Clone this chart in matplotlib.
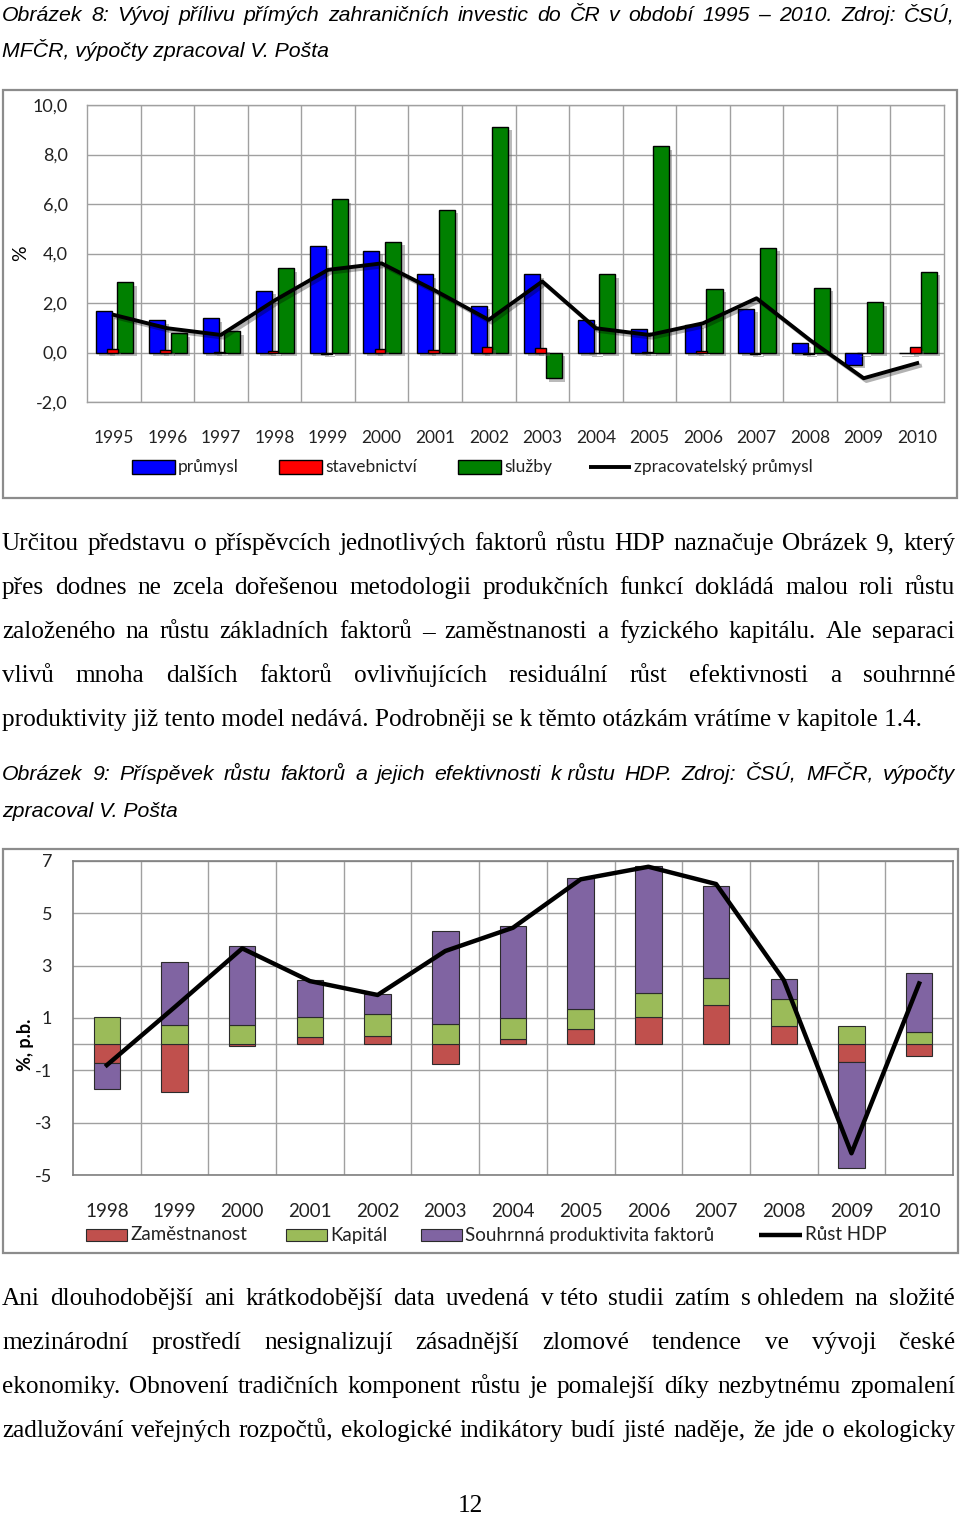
import numpy as np
import matplotlib
matplotlib.use("Agg")
import matplotlib.pyplot as plt
import matplotlib.patheffects as pe
from matplotlib.patches import Rectangle
from matplotlib.font_manager import FontProperties

W, H = 960, 1514

# --- chart 1: FDI inflow by sector, % ---
years1 = [str(y) for y in range(1995, 2011)]
prumysl = [1.68, 1.31, 1.39, 2.50, 4.32, 4.10, 3.16, 1.88, 3.16, 1.31, 0.96, 1.12, 1.76, 0.38, -0.50, -0.03]
stavebnictvi = [0.13, 0.12, 0.02, 0.05, -0.05, 0.15, 0.10, 0.24, 0.17, -0.03, 0.03, 0.05, -0.05, -0.05, -0.03, 0.22]
sluzby = [2.83, 0.78, 0.85, 3.40, 6.19, 4.48, 5.76, 9.12, -1.04, 3.16, 8.34, 2.57, 4.24, 2.62, 2.03, 3.27]
zpracovatelsky = [1.52, 0.98, 0.71, 2.10, 3.34, 3.60, 2.50, 1.32, 2.87, 0.98, 0.71, 1.18, 2.19, 0.50, -1.04, -0.43]

# --- chart 2: contributions to GDP growth, p.p. ---
years2 = [str(y) for y in range(1998, 2011)]
zamestnanost = [-0.73, -1.84, -0.08, 0.27, 0.30, -0.77, 0.18, 0.57, 1.04, 1.48, 0.68, -0.68, -0.44]
kapital = [1.05, 0.72, 0.73, 0.78, 0.85, 0.76, 0.82, 0.79, 0.90, 1.06, 1.03, 0.69, 0.46]
produktivita = [-1.00, 2.41, 3.03, 1.41, 0.75, 3.56, 3.50, 4.98, 4.88, 3.49, 0.79, -4.07, 2.27]
rust_hdp = [-0.80, 1.41, 3.66, 2.41, 1.88, 3.56, 4.45, 6.30, 6.78, 6.12, 2.45, -4.17, 2.32]

cap1 = ["Obrázek 8: Vývoj přílivu přímých zahraničních investic do ČR v období 1995 – 2010. Zdroj: ČSÚ,",
        "MFČR, výpočty zpracoval V. Pošta"]
par1 = ["Určitou představu o příspěvcích jednotlivých faktorů růstu HDP naznačuje Obrázek 9, který",
        "přes dodnes ne zcela dořešenou metodologii produkčních funkcí dokládá malou roli růstu",
        "založeného na růstu základních faktorů – zaměstnanosti a fyzického kapitálu. Ale separaci",
        "vlivů mnoha dalších faktorů ovlivňujících residuální růst efektivnosti a souhrnné",
        "produktivity již tento model nedává. Podrobněji se k těmto otázkám vrátíme v kapitole 1.4."]
cap2 = ["Obrázek 9: Příspěvek růstu faktorů a jejich efektivnosti k\u00a0růstu HDP. Zdroj: ČSÚ, MFČR, výpočty",
        "zpracoval V. Pošta"]
par2 = ["Ani dlouhodobější ani krátkodobější data uvedená v\u00a0této studii zatím s\u00a0ohledem na složité",
        "mezinárodní prostředí nesignalizují zásadnější zlomové tendence ve vývoji české",
        "ekonomiky. Obnovení tradičních komponent růstu je pomalejší díky nezbytnému zpomalení",
        "zadlužování veřejných rozpočtů, ekologické indikátory budí jisté naděje, že jde o ekologicky"]

CHART_FONT = ["Lato", "DejaVu Sans"]
GRID = "#a0a0a0"
FRAME = "#8c8c8c"

fig = plt.figure(figsize=(W / 100, H / 100), dpi=100, facecolor="white")
page = fig.add_axes([0, 0, 1, 1])
page.set_xlim(0, W)
page.set_ylim(H, 0)
page.axis("off")
renderer = fig.canvas.get_renderer()


def px_axes(l, t, r, b):
    return fig.add_axes([l / W, 1 - b / H, (r - l) / W, (b - t) / H])


def text_w(s, fp):
    w, h, d = renderer.get_text_width_height_descent(s, fp, ismath=False)
    return w


def calibrated(family, style, sample, width):
    fp = FontProperties(family=family, style=style, size=10)
    return FontProperties(family=family, style=style, size=10 * width / text_w(sample, fp))


def justify(line, y, fp, x0=2, x1=955):
    words = line.split(" ")
    ws = [text_w(w, fp) for w in words]
    gap = (x1 - x0 - sum(ws)) / (len(words) - 1)
    x = x0
    for w, wd in zip(words, ws):
        page.text(x, y, w, fontproperties=fp, ha="left", va="baseline", color="black")
        x += wd + gap


def plain(line, y, fp, x0=2):
    page.text(x0, y, line, fontproperties=fp, ha="left", va="baseline", color="black")


cap_fp = calibrated("Liberation Sans", "italic", cap1[1], 329)
body_fp = calibrated("Liberation Serif", "normal", par1[4], 923)

justify(cap1[0], 21, cap_fp)
plain(cap1[1], 57, cap_fp)
for i, ln in enumerate(par1[:4]):
    justify(ln, 550 + 44 * i, body_fp)
plain(par1[4], 726, body_fp)
justify(cap2[0], 780, cap_fp)
plain(cap2[1], 817, cap_fp)
for i, ln in enumerate(par2):
    justify(ln, 1305 + 44 * i, body_fp)
page.text(470, 1512, "12", fontproperties=body_fp, ha="center", va="baseline")

# chart frames
page.add_patch(Rectangle((3, 90), 954, 408, fill=False, ec=FRAME, lw=1.6))
page.add_patch(Rectangle((3, 849), 955, 404, fill=False, ec=FRAME, lw=1.6))

# ---------------- chart 1 ----------------
ax1 = px_axes(87, 105, 944, 402)
x1 = np.arange(len(years1))
bar_shadow = [pe.SimplePatchShadow(offset=(2.5, -2.5), shadow_rgbFace="0.4", alpha=0.45), pe.Normal()]
for vals, off, wd, col, z in [(prumysl, -0.19, 0.30, "#0000ff", 3),
                              (sluzby, 0.215, 0.30, "#008000", 3),
                              (stavebnictvi, -0.03, 0.20, "#ff0000", 4)]:
    bars = ax1.bar(x1 + off, vals, width=wd, color=col, edgecolor="black", linewidth=1.0, zorder=z)
    for b in bars:
        b.set_path_effects(bar_shadow)
ax1.plot(x1, zpracovatelsky, color="black", lw=2.8, zorder=6, solid_joinstyle="round",
         path_effects=[pe.SimpleLineShadow(offset=(2, -2), alpha=0.3), pe.Normal()])
ax1.set_xlim(-0.5, len(years1) - 0.5)
ax1.set_ylim(-2, 10)
yt1 = np.arange(-2, 11, 2)
ax1.set_yticks(yt1)
ax1.set_yticklabels([f"{v:.1f}".replace(".", ",") for v in yt1], family=CHART_FONT, fontsize=13, color="#222222")
ax1.set_xticks(x1)
ax1.set_xticklabels(years1, family=CHART_FONT, fontsize=12.5, color="#222222")
ax1.tick_params(length=0, axis="y", pad=14)
ax1.tick_params(length=0, axis="x", pad=20)
for v in yt1:
    ax1.axhline(v, color=GRID, lw=1.0, zorder=1)
for b in np.arange(0.5, len(years1) - 0.5, 1):
    ax1.axvline(b, color=GRID, lw=1.0, zorder=1)
for s in ax1.spines.values():
    s.set_color(GRID)
    s.set_linewidth(1.0)
page.text(21, 253, "%", family=CHART_FONT, fontsize=14, rotation=90, ha="center", va="center")

leg1 = [("průmysl", "#0000ff", 132), ("stavebnictví", "#ff0000", 279), ("služby", "#008000", 458)]
for lab, col, x in leg1:
    page.add_patch(Rectangle((x, 460), 43, 14, fc=col, ec="black", lw=1.0))
    page.text(x + 46, 467, lab, family=CHART_FONT, fontsize=12.5, ha="left", va="center", color="#222222")
page.plot([589, 631], [467, 467], color="black", lw=2.8, solid_capstyle="butt")
page.text(634, 467, "zpracovatelský průmysl", family=CHART_FONT, fontsize=12.5, ha="left", va="center", color="#222222")

# ---------------- chart 2 ----------------
ax2 = px_axes(73, 861, 953, 1175)
x2 = np.arange(len(years2))
pos = np.zeros(len(years2))
neg = np.zeros(len(years2))
for vals, col in [(zamestnanost, "#c0504d"), (kapital, "#9bbb59"), (produktivita, "#8064a2")]:
    v = np.array(vals)
    bottom = np.where(v >= 0, pos, neg)
    ax2.bar(x2, v, bottom=bottom, width=0.39, color=col, edgecolor="#2b2b2b", linewidth=0.8, zorder=3)
    pos = np.where(v >= 0, pos + v, pos)
    neg = np.where(v < 0, neg + v, neg)
ax2.plot(x2, rust_hdp, color="black", lw=3.2, zorder=5, solid_joinstyle="round")
ax2.set_xlim(-0.5, len(years2) - 0.5)
ax2.set_ylim(-5, 7)
yt2 = np.arange(-5, 8, 2)
ax2.set_yticks(yt2)
ax2.set_yticklabels([str(v) for v in yt2], family=CHART_FONT, fontsize=13, color="#222222")
ax2.set_xticks(x2)
ax2.set_xticklabels(years2, family=CHART_FONT, fontsize=13.5, color="#222222")
ax2.tick_params(length=0, axis="y", pad=15)
ax2.tick_params(length=0, axis="x", pad=20)
for v in list(yt2) + [0]:
    ax2.axhline(v, color=GRID, lw=1.0, zorder=1)
for b in np.arange(0.5, len(years2) - 0.5, 1):
    ax2.axvline(b, color=GRID, lw=1.0, zorder=1)
for s in ax2.spines.values():
    s.set_color("#7f7f7f")
    s.set_linewidth(1.2)
page.text(25, 1045, "%, p.b.", family=CHART_FONT, fontsize=13, weight="bold", rotation=90,
          ha="center", va="center")

leg2 = [("Zaměstnanost", "#c0504d", 86), ("Kapitál", "#9bbb59", 286), ("Souhrnná produktivita faktorů", "#8064a2", 421)]
for lab, col, x in leg2:
    page.add_patch(Rectangle((x, 1229), 41, 12, fc=col, ec="#2b2b2b", lw=0.8))
    page.text(x + 44, 1235, lab, family=CHART_FONT, fontsize=13.5, ha="left", va="center", color="#222222")
page.plot([759, 802], [1235, 1235], color="black", lw=3.2, solid_capstyle="butt")
page.text(805, 1235, "Růst HDP", family=CHART_FONT, fontsize=13.5, ha="left", va="center", color="#222222")

fig.savefig("out.png", dpi=100, facecolor="white")
